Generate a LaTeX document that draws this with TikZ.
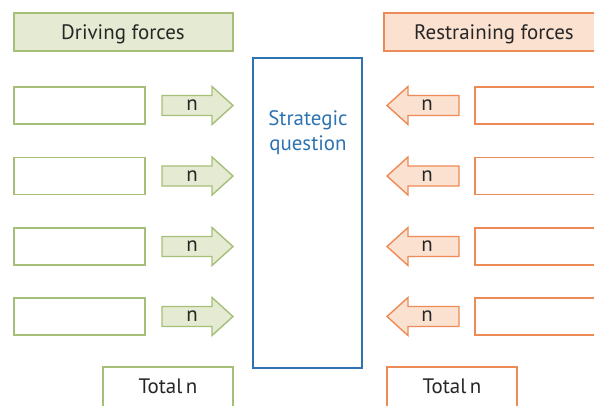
\documentclass[tikz,border=0pt]{standalone}
\usepackage{fontspec}
\setmainfont{PT Sans}
\begin{document}
\begin{tikzpicture}[x=1bp, y=-1bp,
  header/.style={fill=#1fill, draw=#1line, line width=1.4bp},
  label/.style={font=\fontsize{21}{24}\selectfont, text=txt, inner sep=0pt, anchor=base},
  fieldbox/.style={draw=#1line, line width=1.4bp, fill=white},
  forcearrow/.style={fill=#1fill, draw=#1line, line width=1.4bp, line join=miter}
]
\definecolor{drvline}{HTML}{A6BF78}
\definecolor{drvfill}{HTML}{E5EBD2}
\definecolor{resline}{HTML}{EE8A55}
\definecolor{resfill}{HTML}{FBE1D0}
\definecolor{qblue}{HTML}{2E72B2}
\definecolor{txt}{HTML}{262626}
\useasboundingbox (0,0) rectangle (594,405);
\clip (0,0) rectangle (594,405);

% column headers
\draw[header=drv] (14,13) rectangle (233,51);
\node[label] (drvhead) at (123,39) {Driving forces};
\draw[header=res] (384,13) rectangle (600,51);
\node[label] (reshead) at (494,39) {Restraining forces};

% central question box
\draw[draw=qblue, line width=1.8bp] (253,58) rectangle (362,368);
\node[label, text=qblue] (question1) at (308,125) {Strategic};
\node[label, text=qblue] (question2) at (308,150) {question};

% four rows of forces
\foreach \y [count=\i] in {105.5,176,246.5,316.5} {
  % driving side: empty entry box and arrow pointing right
  \draw[fieldbox=drv] (14,\y-18.5) rectangle (145,\y+18.5);
  \draw[forcearrow=drv] (162,\y-10) -- (212,\y-10) -- (212,\y-19)
    -- (233,\y) -- (212,\y+19) -- (212,\y+10) -- (162,\y+10) -- cycle;
  \node[label] (dn\i) at (192,\y+5) {n};
  % restraining side: arrow pointing left and empty entry box
  \draw[forcearrow=res] (459,\y-10) -- (408,\y-10) -- (408,\y-19)
    -- (387,\y) -- (408,\y+19) -- (408,\y+10) -- (459,\y+10) -- cycle;
  \node[label] (rn\i) at (427,\y+5) {n};
  \draw[fieldbox=res] (475,\y-18.5) rectangle (600,\y+18.5);
}

% totals
\draw[fieldbox=drv] (103,367) rectangle (233,410);
\node[label] (drvtotal) at (168,393) {Total\,n};
\draw[fieldbox=res] (387,367) rectangle (517,410);
\node[label] (restotal) at (452,393) {Total\,n};
\end{tikzpicture}
\end{document}
